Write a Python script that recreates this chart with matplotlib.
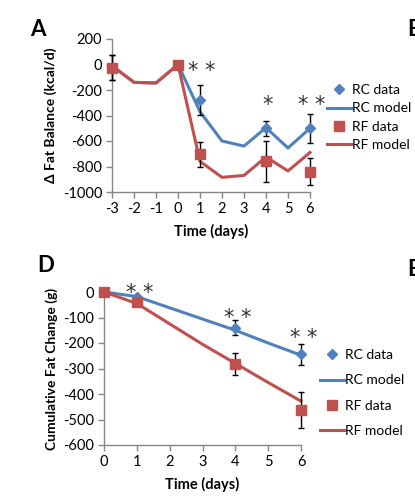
import matplotlib
matplotlib.use("Agg")
import matplotlib.pyplot as plt
from matplotlib.lines import Line2D
import numpy as np

plt.rcParams["font.family"] = ["Lato", "DejaVu Sans"]
plt.rcParams["axes.unicode_minus"] = False

BLUE = "#4F81BD"
RED = "#C0504D"
GRAY = "#868686"

# ── Panel A: daily fat balance ────────────────────────────────────────────────
a_days_model = [-3, -2, -1, 0, 1, 2, 3, 4, 5, 6]
a_rc_model = [-10, -140, -145, 0, -370, -600, -640, -495, -655, -500]
a_rf_model = [-10, -140, -145, 0, -760, -885, -870, -725, -835, -690]

a_days_data = [-3, 0, 1, 4, 6]
a_rc_data = [-25, 0, -275, -500, -500]
a_rc_err = [100, 0, 118, 58, 115]
a_rf_data = [-25, 0, -705, -760, -840]
a_rf_err = [100, 0, 95, 160, 108]

a_star_x = [1, 4, 6]
a_star_y = [0, -270, -270]
a_star_txt = ["* *", "*", "* *"]

# ── Panel D: cumulative fat change ────────────────────────────────────────────
d_days_model = [0, 1, 2, 3, 4, 5, 6]
d_rc_model = [0, -18, -62, -106, -150, -200, -248]
d_rf_model = [0, -45, -125, -205, -280, -355, -428]

d_days_data = [0, 1, 4, 6]
d_rc_data = [0, -18, -140, -245]
d_rc_err = [0, 0, 29, 40]
d_rf_data = [0, -38, -283, -463]
d_rf_err = [0, 0, 44, 72]

d_star_x = [1, 4, 6]
d_star_y = [23, -75, -153]
d_star_txt = ["* *", "* *", "* *"]


def style_axis(ax):
    for s in ["top", "right"]:
        ax.spines[s].set_visible(False)
    for s in ["left", "bottom"]:
        ax.spines[s].set_color(GRAY)
        ax.spines[s].set_linewidth(1.0)
    ax.tick_params(axis="both", colors=GRAY, labelcolor="black", length=4,
                   width=1.0, labelsize=10.5, pad=3)


def draw_panel(ax, xm, rcm, rfm, xd, rcd, rce, rfd, rfe, sx, sy, st):
    ax.plot(xm, rcm, color=BLUE, lw=2.2, clip_on=False, zorder=3)
    ax.plot(xm, rfm, color=RED, lw=2.2, clip_on=False, zorder=3)
    ax.errorbar(xd, rcd, yerr=rce, fmt="D", color=BLUE, ms=5.5, ecolor="black",
                elinewidth=1, capsize=2.5, capthick=1, clip_on=False, zorder=4)
    ax.errorbar(xd, rfd, yerr=rfe, fmt="s", color=RED, ms=7.5, ecolor="black",
                elinewidth=1, capsize=2.5, capthick=1, clip_on=False, zorder=5)
    # star glyph sits above the baseline, so shift down to centre it on y
    for x, y, t in zip(sx, sy, st):
        ax.annotate(t, (x + 0.08, y), xytext=(0, -9), textcoords="offset points",
                    ha="center", va="baseline", fontsize=15, family="DejaVu Sans",
                    color="#333333", annotation_clip=False)


fig = plt.figure(figsize=(4.15, 4.97), dpi=100)

axA = fig.add_axes([112 / 415, 1 - 192 / 497, 198 / 415, 153 / 497])
draw_panel(axA, a_days_model, a_rc_model, a_rf_model, a_days_data,
           a_rc_data, a_rc_err, a_rf_data, a_rf_err, a_star_x, a_star_y, a_star_txt)
axA.set_xlim(-3, 6)
axA.set_ylim(-1000, 200)
axA.set_xticks(range(-3, 7))
axA.set_yticks(range(-1000, 201, 200))
style_axis(axA)
axA.set_xlabel("Time (days)", fontsize=10.5, fontweight="bold", labelpad=6)
axA.set_ylabel("Δ Fat Balance (kcal/d)", fontsize=10, fontweight="bold", labelpad=4)

axD = fig.add_axes([104 / 415, 1 - 445 / 497, 197 / 415, 153 / 497])
draw_panel(axD, d_days_model, d_rc_model, d_rf_model, d_days_data,
           d_rc_data, d_rc_err, d_rf_data, d_rf_err, d_star_x, d_star_y, d_star_txt)
axD.set_xlim(0, 6)
axD.set_ylim(-600, 0)
axD.set_xticks(range(0, 7))
axD.set_yticks(range(-600, 1, 100))
style_axis(axD)
axD.set_xlabel("Time (days)", fontsize=10.5, fontweight="bold", labelpad=6)
axD.set_ylabel("Cumulative Fat Change (g)", fontsize=10, fontweight="bold", labelpad=4)

handles = [
    Line2D([], [], marker="D", color=BLUE, ls="none", ms=5.5),
    Line2D([], [], color=BLUE, lw=2.2),
    Line2D([], [], marker="s", color=RED, ls="none", ms=7.5),
    Line2D([], [], color=RED, lw=2.2),
]
labels = ["RC data", "RC model", "RF data", "RF model"]

fig.legend(handles, labels, loc="center left", bbox_to_anchor=(327 / 415, 1 - 117.5 / 497),
           frameon=False, fontsize=10, handlelength=1.75, handletextpad=0.05,
           labelspacing=0.45, borderpad=0, borderaxespad=0)
fig.legend(handles, labels, loc="center left", bbox_to_anchor=(320 / 415, 1 - 393 / 497),
           frameon=False, fontsize=10, handlelength=1.75, handletextpad=0.05,
           labelspacing=0.95, borderpad=0, borderaxespad=0)

fig.text(30 / 415, 1 - 30 / 497, "A", fontsize=16, fontweight="bold", ha="left", va="center")
fig.text(37 / 415, 1 - 265 / 497, "D", fontsize=16, fontweight="bold", ha="left", va="center")
fig.text(407 / 415, 1 - 30 / 497, "B", fontsize=16, fontweight="bold", ha="left", va="center")
fig.text(407 / 415, 1 - 270 / 497, "E", fontsize=16, fontweight="bold", ha="left", va="center")

fig.savefig("out.png", dpi=100, facecolor="white")
